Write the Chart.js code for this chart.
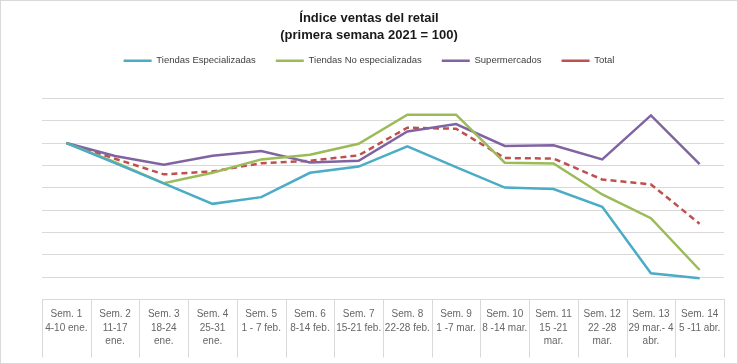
<!DOCTYPE html>
<html>
<head>
<meta charset="utf-8">
<script src="https://cdn.jsdelivr.net/npm/chart.js@4.4.1/dist/chart.umd.min.js"></script>
<style>
  body { margin: 0; background: #fff; }
  #wrap { width: 738px; height: 364px; box-sizing: border-box; border: 1px solid #d9d9d9; }
</style>
</head>
<body>
<div id="wrap"><canvas id="chart" width="736" height="362"></canvas></div>
<script>
// weeks and their date ranges (x axis, two/three line labels)
const weeks = ["Sem. 1", "Sem. 2", "Sem. 3", "Sem. 4", "Sem. 5", "Sem. 6", "Sem. 7",
  "Sem. 8", "Sem. 9", "Sem. 10", "Sem. 11", "Sem. 12", "Sem. 13", "Sem. 14"];
const dateRanges = [["4-10 ene."], ["11-17", "ene."], ["18-24", "ene."], ["25-31", "ene."],
  ["1 - 7 feb."], ["8-14 feb."], ["15-21 feb."], ["22-28 feb."], ["1 -7 mar."], ["8 -14 mar."],
  ["15 -21", "mar."], ["22 -28", "mar."], ["29 mar.- 4", "abr."], ["5 -11 abr."]];

// index values (first week 2021 = 100)
const especializadas = [100, 91, 82, 72.8, 75.8, 86.7, 89.5, 98.5, 89.2, 80.1, 79.4, 71.5, 41.7, 39.5];
const noEspecializadas = [100, 91.5, 82, 86.7, 92.7, 94.8, 99.7, 112.7, 112.7, 91.2, 90.9, 77, 66.4, 43.2];
const supermercados = [100, 94.2, 90.3, 94.3, 96.4, 91.3, 92.1, 105.2, 108.5, 98.7, 99, 92.7, 112.4, 90.6];
const total = [100, 93, 86, 87.3, 91, 92.1, 94.5, 106.9, 106.4, 93.3, 93.1, 83.7, 81.5, 63.9];

const yMin = 30;
const yMax = 120;
const yStep = 10;

const labels = weeks.map((w, i) => [w, ...dateRanges[i]]);
const fontFamily = "'Liberation Sans', Arial, sans-serif";

// push the plot area a bit further below the legend
const legendGap = {
  id: "legendGap",
  beforeInit(chart) {
    const fit = chart.legend.fit;
    chart.legend.fit = function () {
      fit.bind(chart.legend)();
      this.height += 23;
    };
  },
};

// table-like dividers between the category labels under the axis
const labelDividers = {
  id: "labelDividers",
  afterDraw(chart) {
    const x = chart.scales.x;
    const ctx = chart.ctx;
    const top = chart.chartArea.bottom;
    const half = (x.getPixelForTick(1) - x.getPixelForTick(0)) / 2;
    ctx.save();
    ctx.strokeStyle = "#d9d9d9";
    ctx.lineWidth = 1;
    ctx.beginPath();
    for (let i = 0; i <= weeks.length; i++) {
      const px = Math.round(x.getPixelForTick(0) - half + i * half * 2) + 0.5;
      ctx.moveTo(px, top);
      ctx.lineTo(px, top + 58);
    }
    ctx.stroke();
    ctx.restore();
  },
};

const line = (label, data, color, dash) => ({
  label,
  data,
  borderColor: color,
  backgroundColor: color,
  borderWidth: 2.5,
  borderDash: dash || [],
  pointRadius: 0,
  tension: 0,
  fill: false,
});

new Chart(document.getElementById("chart"), {
  type: "line",
  data: {
    labels,
    datasets: [
      line("Tiendas Especializadas", especializadas, "#4bacc6"),
      line("Tiendas No especializadas", noEspecializadas, "#9bbb59"),
      line("Supermercados", supermercados, "#8064a2"),
      line("Total", total, "#c0504d", [6, 4]),
    ],
  },
  options: {
    responsive: false,
    animation: false,
    layout: { padding: { left: 0, right: 0, top: 0, bottom: 7 } },
    plugins: {
      title: {
        display: true,
        text: ["Índice ventas del retail", "(primera semana 2021 = 100)"],
        color: "#1a1a1a",
        font: { family: fontFamily, size: 13, weight: "bold", lineHeight: 1.38 },
        padding: { top: 8, bottom: -9 },
      },
      legend: {
        labels: {
          usePointStyle: true,
          pointStyle: "line",
          pointStyleWidth: 28,
          boxWidth: 28,
          padding: 20,
          color: "#404040",
          font: { family: fontFamily, size: 9.5 },
        },
      },
      tooltip: { enabled: false },
    },
    scales: {
      x: {
        offset: true,
        grid: { drawOnChartArea: false, drawTicks: false, color: "#d9d9d9" },
        border: { display: true, color: "#d9d9d9" },
        ticks: {
          autoSkip: false,
          maxRotation: 0,
          minRotation: 0,
          padding: 8,
          color: "#666666",
          font: { family: fontFamily, size: 10, lineHeight: 1.35 },
        },
      },
      y: {
        min: yMin,
        max: yMax,
        ticks: { display: false, stepSize: yStep },
        grid: { drawTicks: false, color: "#d9d9d9" },
        border: { display: false },
        afterFit(scale) { scale.width = 41; },
      },
      // empty right axis, only keeps a margin so the title stays centred on the canvas
      yRight: {
        position: "right",
        ticks: { display: false },
        grid: { display: false, drawTicks: false },
        border: { display: false },
        afterFit(scale) { scale.width = 13; },
      },
    },
  },
  plugins: [legendGap, labelDividers],
});
</script>
</body>
</html>
